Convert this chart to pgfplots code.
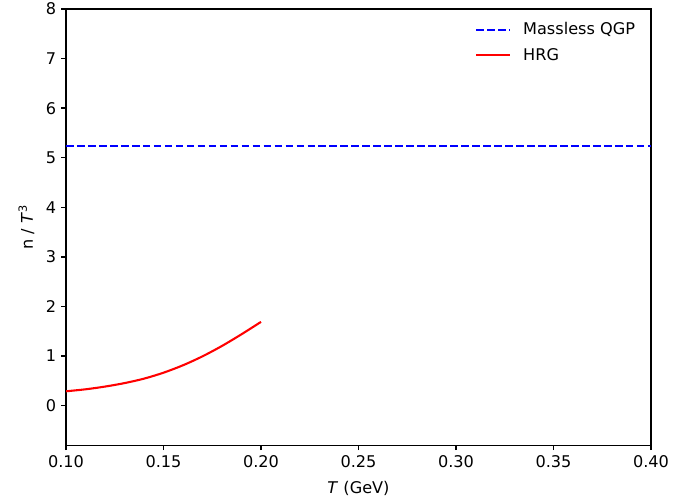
\documentclass[border=0pt]{standalone}
\usepackage{pgfplots}
\pgfplotsset{compat=1.18}
\usepackage{fontspec}
\setmainfont{DejaVu Sans}
\usetikzlibrary{calc}

\begin{document}
\begin{tikzpicture}
  \begin{axis}[
    width=421pt, height=314pt, scale only axis,
    xmin=0.10, xmax=0.40, ymin=-0.8, ymax=8,
    xtick={0.10,0.15,...,0.40}, ytick={0,1,...,8},
    xticklabel style={/pgf/number format/.cd, fixed, fixed zerofill, precision=2},
    /pgf/number format/assume math mode=true,
    tick label style={font=\fontsize{11.6}{13}\selectfont},
    label style={font=\fontsize{11.6}{13}\selectfont},
    xlabel={\textit{T} (GeV)}, ylabel={n / \textit{T}\textsuperscript{3}},
    ylabel style={yshift=1.5pt}, xlabel style={yshift=-3pt},
    tick align=outside, xtick pos=bottom, ytick pos=left,
    major tick length=3.5pt,
    axis line style={line width=1.1pt}, every tick/.style={black, line width=1pt},
    legend style={draw=none, fill=none, at={(0.985,0.982)}, anchor=north east,
      font=\fontsize{11.6}{13}\selectfont, row sep=4pt,
      /tikz/every odd column/.append style={column sep=7pt}},
    legend cell align=left,
    legend image post style={xscale=1.4},
  ]
    \addplot[blue, line width=1.5pt, dash pattern=on 5.5pt off 2.4pt] coordinates {(0.10,5.24) (0.40,5.24)};
    \addlegendentry{Massless QGP}
    \addplot[red, line width=1.5pt, smooth] coordinates {
      (0.100,0.29) (0.110,0.33) (0.120,0.385) (0.130,0.455) (0.140,0.545)
      (0.150,0.665) (0.160,0.815) (0.170,0.995) (0.180,1.205) (0.190,1.44) (0.200,1.69)};
    \addlegendentry{HRG}
  \end{axis}
  \pgfresetboundingbox
  \path ($(current axis.south west)+(-47.5pt,-38.9pt)$) rectangle ($(current axis.north east)+(32.4pt,6.5pt)$);
\end{tikzpicture}
\end{document}
